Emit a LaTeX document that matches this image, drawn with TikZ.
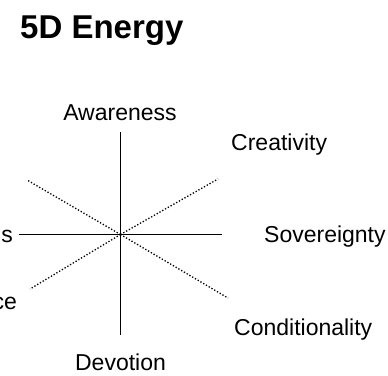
\documentclass[tikz,border=0pt]{standalone}
\usepackage{fontspec}
\setmainfont{Liberation Sans}
\begin{document}
\begin{tikzpicture}[x=1pt,y=-1pt,
  lbl/.style={inner sep=0pt,font=\fontsize{23}{27}\selectfont},
  titlelbl/.style={inner sep=0pt,font=\fontsize{33}{38}\selectfont\bfseries},
  axis/.style={line width=1.5pt,black},
  diag/.style={line width=1.3pt,black,dash pattern=on 1.3pt off 1.9pt}]
\useasboundingbox (0,0) rectangle (388,375);
\node[titlelbl,anchor=base west] (title) at (20,38) {5D Energy};
\coordinate (c) at (120.5,234.5);
\coordinate (top) at (120.5,132);
\coordinate (bot) at (120.5,335);
\coordinate (lft) at (19,234.5);
\coordinate (rgt) at (222,234.5);
\coordinate (ul) at (27,180);
\coordinate (ur) at (218,179);
\coordinate (ll) at (30,289);
\coordinate (lr) at (228,298);
\draw[axis] (top) -- (bot);
\draw[axis] (lft) -- (rgt);
\draw[diag] (c) -- (ul);
\draw[diag] (c) -- (ur);
\draw[diag] (c) -- (ll);
\draw[diag] (c) -- (lr);
\node[lbl,anchor=base] (aw) at (120,120) {Awareness};
\node[lbl,anchor=base west] (cr) at (231,150) {Creativity};
\node[lbl,anchor=base west] (sov) at (264,242) {Sovereignty};
\node[lbl,anchor=base west] (cond) at (234,335) {Conditionality};
\node[lbl,anchor=base] (dev) at (120.5,370) {Devotion};
\node[lbl,anchor=base east] (ls) at (13,242) {s};
\node[lbl,anchor=base east] (lce) at (17,309) {ce};
\end{tikzpicture}
\end{document}
